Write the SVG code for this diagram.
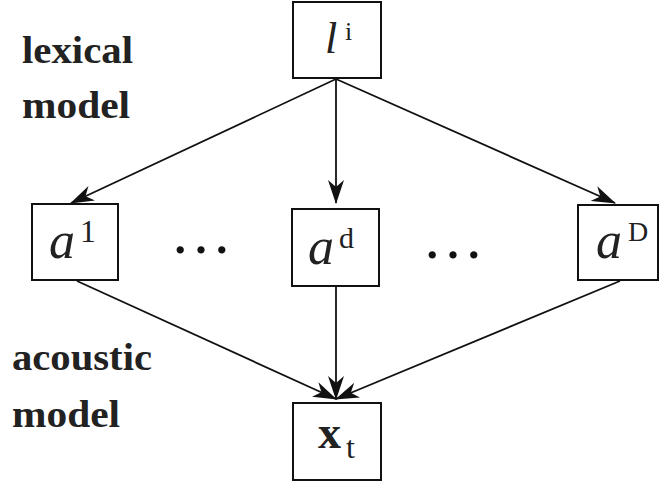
<svg xmlns="http://www.w3.org/2000/svg" width="659" height="484" viewBox="0 0 659 484">
  <style>
    .box { fill: #fff; stroke: #111; stroke-width: 2; }
    .edge { fill: none; stroke: #111; stroke-width: 1.8; marker-end: url(#arr); }
    .lbl { font-family: "Liberation Serif", "DejaVu Serif", serif; font-weight: bold; font-size: 37px; fill: #222; }
    .m { font-family: "Liberation Serif", "DejaVu Serif", serif; font-style: italic; fill: #222; }
    .sup { font-family: "Liberation Serif", "DejaVu Serif", serif; font-style: normal; fill: #222; }
    .dots { font-family: "Liberation Serif", "DejaVu Serif", serif; font-size: 62px; fill: #111; }
  </style>
  <defs>
    <marker id="arr" viewBox="0 0 24 16" refX="23" refY="8" markerWidth="24" markerHeight="16" markerUnits="userSpaceOnUse" orient="auto">
      <path d="M0,0 L24,8 L0,16 L7,8 Z" fill="#111"/>
    </marker>
  </defs>

  <g id="labels">
    <text class="lbl" x="22" y="63" textLength="111" lengthAdjust="spacingAndGlyphs">lexical</text>
    <text class="lbl" x="22" y="118" textLength="108" lengthAdjust="spacingAndGlyphs">model</text>
    <text class="lbl" x="12" y="370" textLength="140" lengthAdjust="spacingAndGlyphs">acoustic</text>
    <text class="lbl" x="12" y="427" textLength="108" lengthAdjust="spacingAndGlyphs">model</text>
  </g>

  <g id="connectors">
    <line class="edge" x1="336" y1="79" x2="71" y2="203"/>
    <line class="edge" x1="336" y1="79" x2="336" y2="203"/>
    <line class="edge" x1="336" y1="79" x2="615" y2="203"/>
    <line class="edge" x1="77" y1="281" x2="336" y2="399"/>
    <line class="edge" x1="336" y1="287" x2="336" y2="399"/>
    <line class="edge" x1="620" y1="281" x2="336" y2="399"/>
  </g>

  <g id="node-li">
    <rect class="box" x="293" y="2" width="88" height="76"/>
    <text class="m" x="325" y="53" font-size="44">l</text>
    <text class="sup" x="345" y="40" font-size="26" font-style="italic">i</text>
  </g>

  <g id="node-a1">
    <rect class="box" x="32" y="204" width="86" height="76"/>
    <text class="m" x="49" y="258" font-size="52">a</text>
    <text class="sup" x="80" y="242" font-size="32">1</text>
  </g>

  <g id="node-ad">
    <rect class="box" x="292" y="209" width="87" height="77"/>
    <text class="m" x="308" y="264" font-size="52">a</text>
    <text class="sup" x="339" y="248" font-size="30">d</text>
  </g>

  <g id="node-aD">
    <rect class="box" x="578" y="205" width="80" height="75"/>
    <text class="m" x="596" y="258" font-size="52">a</text>
    <text class="sup" x="628" y="241" font-size="28">D</text>
  </g>

  <g id="node-xt">
    <rect class="box" x="293" y="403" width="88" height="77"/>
    <text class="sup" x="318" y="448" font-size="46" font-weight="bold">x</text>
    <text class="sup" x="346" y="458" font-size="32">t</text>
  </g>

  <g id="ellipses">
    <text class="dots" x="170" y="253">…</text>
    <text class="dots" x="422" y="258">…</text>
  </g>
</svg>
